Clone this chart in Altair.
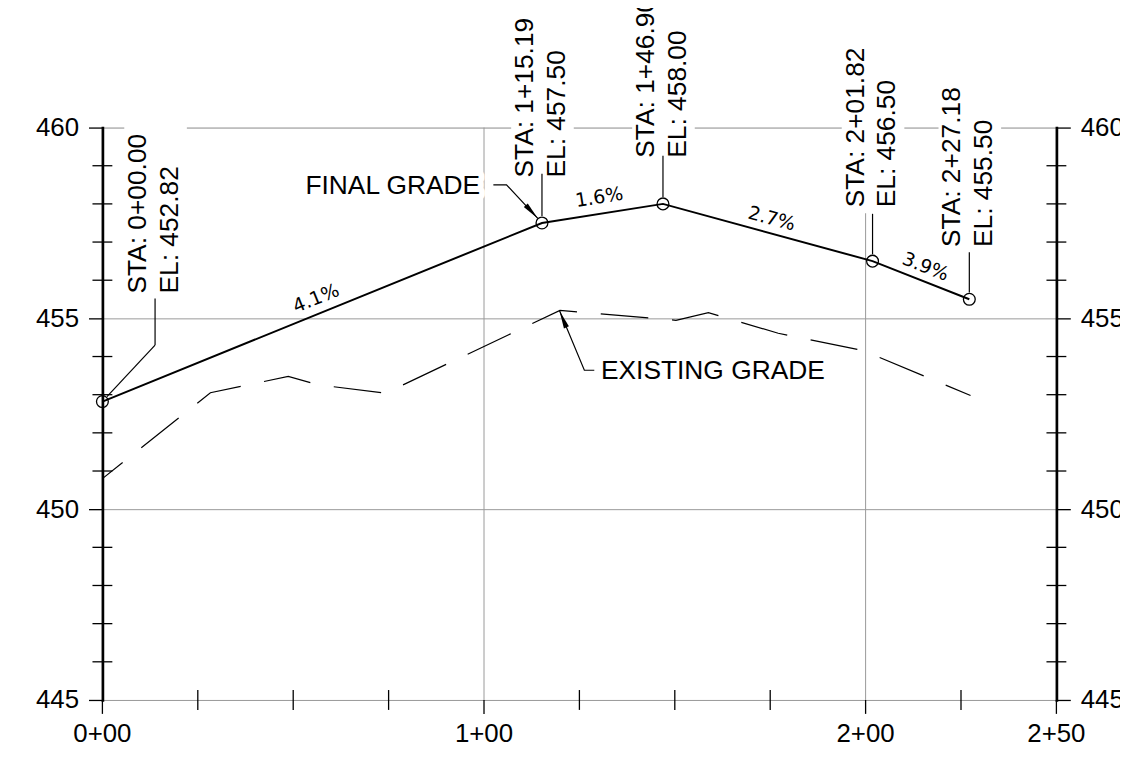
import altair as alt
import pandas as pd

FONT = "Liberation Sans"
SMALL_FONT = "DejaVu Sans"

# ---- data -------------------------------------------------------------
final_sta = [0.0, 115.19, 146.90, 201.82, 227.18]
final_el = [452.82, 457.50, 458.00, 456.50, 455.50]

exist_sta = [0.0, 28.3, 48.7, 56.4, 74.2, 119.9, 150.3, 158.8, 177.1, 199.2, 227.5]
exist_el = [450.80, 453.05, 453.48, 453.26, 453.04, 455.21, 454.95, 455.15, 454.61, 454.16, 452.98]

grade_text = ["4.1%", "1.6%", "2.7%", "3.9%"]
grade_sta = [56.0, 130.2, 175.4, 215.7]
grade_el = [455.52, 458.17, 457.61, 456.35]
grade_angle = [338, 351, 15, 21.5]

# vertex label anchors (station of leader, elevation of text foot)
label_x = [13.8, 115.19, 146.90, 201.82, 227.18]
label_base_el = [455.65, 458.69, 459.21, 457.91, 456.87]
leader_bottom_el = [454.30, 457.68, 458.18, 456.68, 455.68]
leader_top_el = [455.52, 458.79, 459.26, 457.74, 456.73]

# first leader dog-leg
lead0_sta = [1.2, 13.8]
lead0_el = [452.95, 454.30]

# callouts
final_call_text = ["FINAL GRADE"]
final_call_sta = [98.96]
final_call_el = [458.46]
exist_call_text = ["EXISTING GRADE"]
exist_call_sta = [130.65]
exist_call_el = [453.61]

final_lead_sta = [102.45, 105.9, 114.1]
final_lead_el = [458.50, 458.50, 457.62]
exist_lead_sta = [128.9, 126.3, 119.8]
exist_lead_el = [453.64, 453.64, 455.20]

arrow_sta = [112.53, 120.7]
arrow_el = [457.79, 454.98]
arrow_angle = [137.6, 337.4]

x_ticks = [0, 100, 200, 250]
x_grid = [100, 200]
y_ticks = [445, 450, 455, 460]
minor_x = [25, 50, 75, 125, 150, 175, 225]
minor_y = [446, 447, 448, 449, 451, 452, 453, 454, 456, 457, 458, 459]

# ---- frames -----------------------------------------------------------
final_df = pd.DataFrame({"sta": final_sta, "el": final_el})
exist_df = pd.DataFrame({"sta": exist_sta, "el": exist_el})
grade_df = pd.DataFrame({"sta": grade_sta, "el": grade_el, "t": grade_text, "ang": grade_angle})
labels_df = pd.DataFrame({
    "x": label_x,
    "base": label_base_el,
    "lb": leader_bottom_el,
    "lt": leader_top_el,
    "sta": [f"STA: {int(s // 100)}+{s - 100 * int(s // 100):05.2f}" for s in final_sta],
    "el": [f"EL: {e:.2f}" for e in final_el],
})
lead0_df = pd.DataFrame({"sta": lead0_sta, "el": lead0_el, "i": [0, 1]})
final_call_df = pd.DataFrame({"sta": final_call_sta, "el": final_call_el, "t": final_call_text})
exist_call_df = pd.DataFrame({"sta": exist_call_sta, "el": exist_call_el, "t": exist_call_text})
final_lead_df = pd.DataFrame({"sta": final_lead_sta, "el": final_lead_el, "i": [0, 1, 2]})
exist_lead_df = pd.DataFrame({"sta": exist_lead_sta, "el": exist_lead_el, "i": [0, 1, 2]})
arrow_df = pd.DataFrame({"sta": arrow_sta, "el": arrow_el, "ang": arrow_angle})
minor_x_df = pd.DataFrame({"v": minor_x})
minor_y_df = pd.DataFrame({"v": minor_y})
xtick_df = pd.DataFrame({"v": x_ticks, "lab": [f"{v // 100}+{v % 100:02d}" for v in x_ticks]})
xgrid_df = pd.DataFrame({"v": x_grid})

# ---- scales & axes ----------------------------------------------------
xs = alt.Scale(domain=[0, 250], nice=False, zero=False)
ys = alt.Scale(domain=[445, 460], nice=False, zero=False)

common_axis = dict(
    domainColor="black", domainWidth=2.7, domainCap="square",
    tickColor="black", tickWidth=1.3, tickSize=14,
    labelFont=FONT, labelFontSize=26, labelColor="black",
    labelFlush=False, labelOverlap=False, labelBound=False, title=None,
)
x_axis = alt.Axis(ticks=False, labels=False, grid=False, domainColor="black",
                  domainWidth=2.7, domainCap="square", title=None)
y_left = alt.Axis(values=y_ticks, grid=True, gridColor="#999999", gridWidth=1,
                  labelPadding=10, orient="left", **common_axis)
y_right = alt.Axis(values=y_ticks, grid=False, labelPadding=10, orient="right", **common_axis)

X = lambda f: alt.X(f, scale=xs, axis=None)
Y = lambda f: alt.Y(f, scale=ys, axis=None)
XD = lambda v: alt.XDatum(v, scale=xs, axis=None, type="quantitative")
YD = lambda v: alt.YDatum(v, scale=ys, axis=None, type="quantitative")

# ---- layers -----------------------------------------------------------
x_gridlines = alt.Chart(xgrid_df).mark_rule(color="#999999", strokeWidth=1).encode(
    x=X("v:Q"), y=YD(445), y2=alt.Y2Datum(460))

masks = alt.Chart(labels_df).mark_rect(
    color="white", xOffset=-31, x2Offset=32, yOffset=6, y2Offset=-172
).encode(x=X("x:Q"), x2="x", y=Y("base:Q"), y2="base")

final_halo = alt.Chart(final_call_df).mark_text(
    font=FONT, fontSize=26.5, baseline="middle", align="right", color="white",
    stroke="white", strokeWidth=12, strokeJoin="round"
).encode(x=X("sta:Q"), y=Y("el:Q"), text="t:N")

exist_halo = alt.Chart(exist_call_df).mark_text(
    font=FONT, fontSize=26.5, baseline="middle", align="left", color="white",
    stroke="white", strokeWidth=12, strokeJoin="round"
).encode(x=X("sta:Q"), y=Y("el:Q"), text="t:N")

exist_line = alt.Chart(exist_df).mark_line(
    color="black", strokeWidth=1.2, strokeDash=[48, 24], strokeDashOffset=22
).encode(x=alt.X("sta:Q", scale=xs, axis=x_axis), y=alt.Y("el:Q", scale=ys, axis=y_left))

final_line = alt.Chart(final_df).mark_line(color="black", strokeWidth=2).encode(
    x=X("sta:Q"), y=Y("el:Q"))

leaders = alt.Chart(labels_df).mark_rule(color="black", strokeWidth=1.2).encode(
    x=X("x:Q"), y=Y("lb:Q"), y2="lt")

lead0 = alt.Chart(lead0_df).mark_line(color="black", strokeWidth=1.2).encode(
    x=X("sta:Q"), y=Y("el:Q"), order="i:Q")
final_lead = alt.Chart(final_lead_df).mark_line(color="black", strokeWidth=1.2).encode(
    x=X("sta:Q"), y=Y("el:Q"), order="i:Q")
exist_lead = alt.Chart(exist_lead_df).mark_line(color="black", strokeWidth=1.2).encode(
    x=X("sta:Q"), y=Y("el:Q"), order="i:Q")

arrows = alt.Chart(arrow_df).mark_point(
    shape="M0,-1L0.3,1L-0.3,1Z", filled=True, size=324, color="black", opacity=1
).encode(x=X("sta:Q"), y=Y("el:Q"), angle=alt.Angle("ang:Q", scale=None))

circles = alt.Chart(final_df).mark_point(
    shape="circle", filled=False, size=141, color="black", strokeWidth=1.3, opacity=1
).encode(x=X("sta:Q"), y=Y("el:Q"))

minor_left = alt.Chart(minor_y_df).mark_tick(
    orient="horizontal", size=20, thickness=1.3, color="black", opacity=1
).encode(x=XD(0), y=Y("v:Q"))

minor_right = alt.Chart(minor_y_df).mark_tick(
    orient="horizontal", size=20, thickness=1.3, color="black", opacity=1
).encode(x=XD(250), y=alt.Y("v:Q", scale=ys, axis=y_right))

minor_bottom = alt.Chart(minor_x_df).mark_tick(
    orient="vertical", size=20, thickness=1.3, color="black", opacity=1
).encode(x=X("v:Q"), y=YD(445))

major_bottom = alt.Chart(xtick_df).mark_rule(color="black", strokeWidth=1.3, y2Offset=14).encode(
    x=X("v:Q"), y=YD(445), y2=alt.Y2Datum(445))

x_labels = alt.Chart(xtick_df).mark_text(
    font=FONT, fontSize=26, align="center", baseline="middle", dy=34, color="black"
).encode(x=X("v:Q"), y=YD(445), text="lab:N")

sta_text = alt.Chart(labels_df).mark_text(
    font=FONT, fontSize=26.5, angle=270, align="left", baseline="middle", dy=-17, color="black"
).encode(x=X("x:Q"), y=Y("base:Q"), text="sta:N")

el_text = alt.Chart(labels_df).mark_text(
    font=FONT, fontSize=26.5, angle=270, align="left", baseline="middle", dy=15, color="black"
).encode(x=X("x:Q"), y=Y("base:Q"), text="el:N")

grade_labels = alt.Chart(grade_df).mark_text(
    font=SMALL_FONT, fontSize=19, align="center", baseline="middle", color="black"
).encode(x=X("sta:Q"), y=Y("el:Q"), text="t:N", angle=alt.Angle("ang:Q", scale=None))

final_call = alt.Chart(final_call_df).mark_text(
    font=FONT, fontSize=26.5, baseline="middle", align="right", color="black"
).encode(x=X("sta:Q"), y=Y("el:Q"), text="t:N")

exist_call = alt.Chart(exist_call_df).mark_text(
    font=FONT, fontSize=26.5, baseline="middle", align="left", color="black"
).encode(x=X("sta:Q"), y=Y("el:Q"), text="t:N")

chart = alt.layer(
    x_gridlines, masks, final_halo, exist_halo, exist_line, final_line, leaders, lead0,
    final_lead, exist_lead, arrows, circles, minor_left, minor_right, minor_bottom,
    major_bottom, x_labels, sta_text, el_text, grade_labels, final_call, exist_call,
).resolve_axis(y="independent").properties(
    width=960, height=576,
    padding={"left": 95, "top": 118, "right": 64, "bottom": 45},
    autosize=alt.AutoSizeParams(type="none"),
).configure_view(stroke=None).configure(font=FONT)

chart.save("out.html", embed_options={"renderer": "svg", "actions": False})
